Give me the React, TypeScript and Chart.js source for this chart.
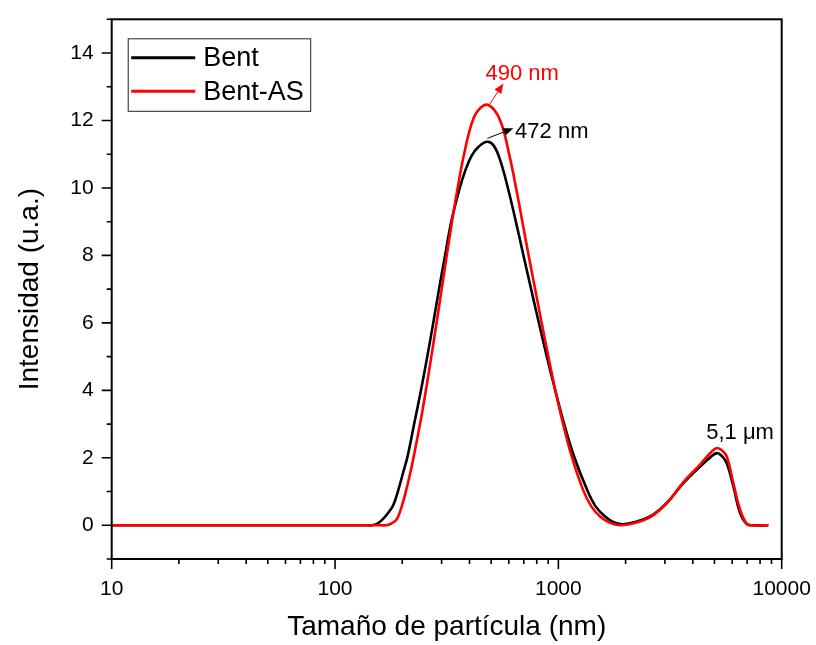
import { useEffect, useRef } from 'react';
import { Chart, registerables } from 'chart.js';

Chart.register(...registerables);

const FONT = "'Liberation Sans', Arial, Helvetica, sans-serif";

// Bent (black) – particle size (nm) vs intensity
const bentX = [10, 100, 140, 146.5, 155.8, 165.8, 174.5, 182.4, 192.1, 201.6, 211.2, 226.5, 242.7, 258.8, 275.3, 292.2, 310.9, 331.5, 359.3, 382.2, 408.6, 439.2, 477.9, 511.7, 548.3, 597.2, 647.8, 699.8, 756.1, 818.7, 888.1, 967.6, 1059, 1176, 1345, 1468, 1619, 1758, 1929, 2150, 2575, 3059, 3629, 4310, 4800, 5121, 5400, 5677, 6076, 6511, 6978, 7500, 8717];
const bentY = [0, 0, 0, 0, 0.06, 0.22, 0.4, 0.6, 1.05, 1.55, 2.04, 3.03, 4.01, 5.0, 6.0, 7.0, 8.0, 9.0, 9.93, 10.5, 10.95, 11.22, 11.37, 11.27, 10.83, 9.94, 8.95, 7.96, 6.98, 5.99, 5.0, 4.01, 3.03, 2.04, 1.05, 0.56, 0.26, 0.1, 0.03, 0.08, 0.26, 0.66, 1.25, 1.74, 2.02, 2.14, 2.05, 1.84, 1.15, 0.36, 0.04, 0, 0];

// Bent-AS (red)
const bentASX = [10, 100, 160, 169.2, 178.2, 189, 198.9, 208.4, 217.2, 225.1, 240.7, 255.3, 269.9, 284.8, 300.3, 316.4, 333.9, 352.7, 376.3, 409.5, 438.3, 485.9, 548.3, 605.2, 649.2, 692, 737.8, 788, 842.6, 902, 968.5, 1047.6, 1147.4, 1290, 1404, 1538, 1704, 1889, 2150, 2575, 3059, 3629, 4310, 4800, 5121, 5400, 5677, 6076, 6511, 6978, 7300, 8717];
const bentASY = [0, 0, 0, 0, 0.05, 0.18, 0.56, 1.05, 1.55, 2.04, 3.03, 4.01, 5.0, 6.0, 7.0, 8.0, 9.0, 9.94, 10.93, 11.92, 12.31, 12.46, 12.01, 10.93, 9.94, 8.95, 7.96, 6.98, 5.99, 5.0, 4.01, 3.03, 2.04, 1.05, 0.56, 0.26, 0.07, 0.0, 0.05, 0.24, 0.66, 1.28, 1.8, 2.15, 2.29, 2.22, 2.04, 1.25, 0.46, 0.04, 0, 0];

const seriesLabels = ['Bent', 'Bent-AS'];
const seriesColors = ['#000000', '#ff0000'];

const xTickValues = [10, 100, 1000, 10000];
const yTickValues = [0, 2, 4, 6, 8, 10, 12, 14];

const xTitle = 'Tamaño de partícula (nm)';
const yTitle = 'Intensidad (u.a.)';

// annotations: text, text anchor (x,y), arrow from, arrow to
const noteTexts = ['490 nm', '472 nm', '5,1 μm'];
const noteColors = ['#ff0000', '#000000', '#000000'];
const noteX = [688, 640, 6511];
const noteY = [13.38, 11.66, 2.74];
const noteAlign = ['center', 'left', 'center'];
const arrowFromX = [490, 481, null];
const arrowFromY = [12.46, 11.47, null];
const arrowToX = [567, 629, null];
const arrowToY = [13.1, 11.77, null];

const framePlugin = {
  id: 'frameAndNotes',
  afterDraw(chart: any) {
    const { ctx, chartArea: a, scales } = chart;
    const xs = scales.x;
    const ys = scales.y;
    ctx.save();
    ctx.strokeStyle = '#000';
    ctx.lineWidth = 2;
    ctx.strokeRect(a.left, a.top, a.right - a.left, a.bottom - a.top);

    // x ticks (log, major + minor)
    ctx.lineWidth = 1.6;
    ctx.beginPath();
    for (let d = 10; d <= 10000; d *= 10) {
      for (let m = 1; m <= 9; m++) {
        const v = m * d;
        if (v < 10 || v > 10000) continue;
        const px = xs.getPixelForValue(v);
        const len = m === 1 ? 10 : 5;
        ctx.moveTo(px, a.bottom);
        ctx.lineTo(px, a.bottom + len);
      }
    }
    // y ticks
    for (let v = -1; v <= 15; v++) {
      const py = ys.getPixelForValue(v);
      const len = v % 2 === 0 ? 10 : 5;
      ctx.moveTo(a.left, py);
      ctx.lineTo(a.left - len, py);
    }
    ctx.stroke();

    // legend
    const lx = a.left + 16.5;
    const ly = a.top + 19.5;
    const lw = 182.5;
    const lh = 72.5;
    ctx.lineWidth = 1;
    ctx.strokeStyle = '#222';
    ctx.strokeRect(lx, ly, lw, lh);
    ctx.font = `27px ${FONT}`;
    ctx.textBaseline = 'middle';
    ctx.textAlign = 'left';
    seriesLabels.forEach((lab, i) => {
      const yy = ly + 19 + i * 33.5;
      ctx.strokeStyle = seriesColors[i];
      ctx.lineWidth = 3;
      ctx.beginPath();
      ctx.moveTo(lx + 3, yy);
      ctx.lineTo(lx + 67, yy);
      ctx.stroke();
      ctx.fillStyle = '#000';
      ctx.fillText(lab, lx + 75, yy + 1);
    });

    // annotations
    ctx.font = `22px ${FONT}`;
    noteTexts.forEach((t, i) => {
      ctx.fillStyle = noteColors[i];
      ctx.textAlign = noteAlign[i] as CanvasTextAlign;
      ctx.textBaseline = 'middle';
      ctx.fillText(t, xs.getPixelForValue(noteX[i]), ys.getPixelForValue(noteY[i]));
      const fx = arrowFromX[i];
      if (fx != null) {
        const x0 = xs.getPixelForValue(fx);
        const y0 = ys.getPixelForValue(arrowFromY[i] as number);
        const x1 = xs.getPixelForValue(arrowToX[i] as number);
        const y1 = ys.getPixelForValue(arrowToY[i] as number);
        const ang = Math.atan2(y1 - y0, x1 - x0);
        const hl = 10;
        const hw = 4;
        const bx = x1 - hl * Math.cos(ang);
        const by = y1 - hl * Math.sin(ang);
        ctx.strokeStyle = noteColors[i];
        ctx.lineWidth = 1;
        ctx.beginPath();
        ctx.moveTo(x0, y0);
        ctx.lineTo(bx, by);
        ctx.stroke();
        ctx.beginPath();
        ctx.moveTo(x1, y1);
        ctx.lineTo(bx + hw * Math.sin(ang), by - hw * Math.cos(ang));
        ctx.lineTo(bx - hw * Math.sin(ang), by + hw * Math.cos(ang));
        ctx.closePath();
        ctx.fill();
      }
    });
    ctx.restore();
  },
};

const zeroPad = (s: any) => {
  s.paddingTop = 0;
  s.paddingBottom = 0;
  s.paddingLeft = 0;
  s.paddingRight = 0;
};

export default function App() {
  const ref = useRef<HTMLCanvasElement | null>(null);
  useEffect(() => {
    if (!ref.current) return;
    Chart.defaults.font.family = FONT;
    Chart.defaults.color = '#000';
    const chart = new Chart(ref.current, {
      type: 'scatter',
      data: {
        datasets: [
          {
            label: seriesLabels[0],
            data: bentX.map((x, i) => ({ x, y: bentY[i] })),
            borderColor: seriesColors[0],
            backgroundColor: seriesColors[0],
            borderWidth: 2.6,
            pointRadius: 0,
            showLine: true,
            tension: 0.4,
            order: 1,
          },
          {
            label: seriesLabels[1],
            data: bentASX.map((x, i) => ({ x, y: bentASY[i] })),
            borderColor: seriesColors[1],
            backgroundColor: seriesColors[1],
            borderWidth: 2.6,
            pointRadius: 0,
            showLine: true,
            tension: 0.4,
            order: 0,
          },
        ],
      },
      options: {
        responsive: false,
        animation: false,
        layout: { padding: { left: 0, right: 34.3, top: 11.3, bottom: 0 } },
        plugins: { legend: { display: false }, tooltip: { enabled: false } },
        scales: {
          x: {
            type: 'logarithmic',
            position: 'bottom',
            min: 10,
            max: 10000,
            afterBuildTicks: (s: any) => {
              s.ticks = xTickValues.map((v) => ({ value: v }));
            },
            afterFit: (s: any) => {
              s.height = 86;
              zeroPad(s);
            },
            grid: { display: false, drawTicks: false },
            border: { display: false },
            ticks: {
              padding: 18,
              autoSkip: false,
              maxRotation: 0,
              color: '#000',
              font: { size: 21 },
              callback: (v: any) => String(v),
            },
            title: {
              display: true,
              text: xTitle,
              color: '#000',
              font: { size: 28 },
              padding: { top: 1, bottom: 1 },
            },
          },
          y: {
            type: 'linear',
            min: -1,
            max: 15,
            afterBuildTicks: (s: any) => {
              s.ticks = yTickValues.map((v) => ({ value: v }));
            },
            afterFit: (s: any) => {
              s.width = 103.7;
              zeroPad(s);
            },
            grid: { display: false, drawTicks: false },
            border: { display: false },
            ticks: {
              padding: 18,
              autoSkip: false,
              color: '#000',
              font: { size: 21 },
              callback: (v: any) => String(v),
            },
            title: {
              display: true,
              text: yTitle,
              color: '#000',
              font: { size: 28 },
              padding: { top: 5, bottom: 5 },
            },
          },
        },
      },
      plugins: [framePlugin],
    } as any);
    return () => chart.destroy();
  }, []);
  return (
    <canvas
      ref={ref}
      width={808}
      height={637}
      style={{ display: 'block', position: 'absolute', left: 8, top: 8 }}
    />
  );
}
